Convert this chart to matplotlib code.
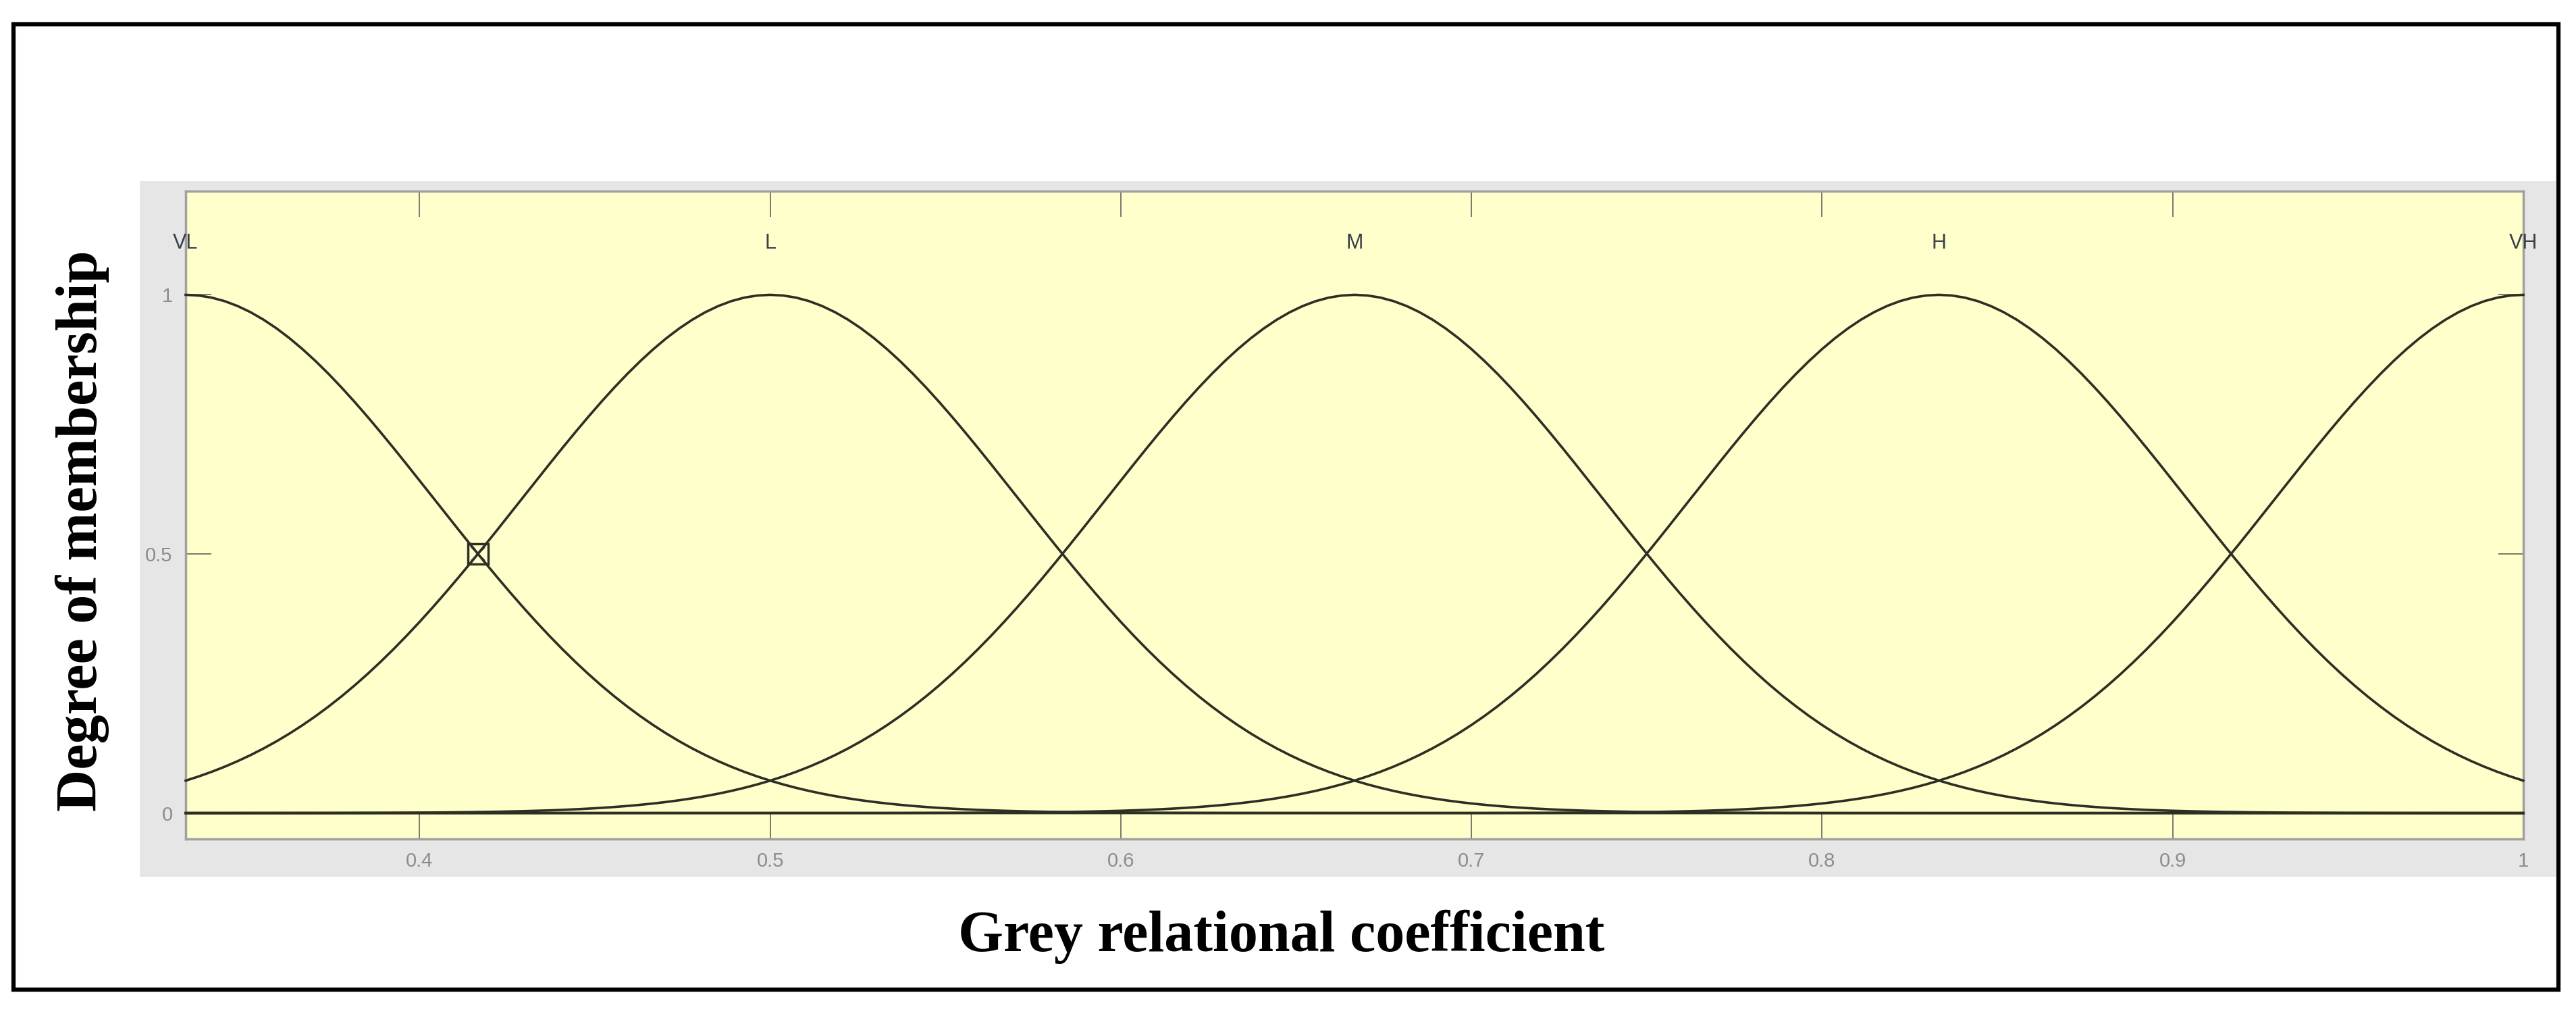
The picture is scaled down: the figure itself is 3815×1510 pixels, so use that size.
import matplotlib.pyplot as plt
from matplotlib.patches import Rectangle
import numpy as np

# membership functions (gaussmf), parameters
mf_names = ["VL", "L", "M", "H", "VH"]
mf_centers = [0.3333, 0.5, 0.6667, 0.8333, 1.0]
mf_sigmas = [0.0708, 0.0708, 0.0708, 0.0708, 0.0708]

x_range = [0.3333, 1.0]
x_ticks = [0.4, 0.5, 0.6, 0.7, 0.8, 0.9, 1.0]
x_tick_labels = ["0.4", "0.5", "0.6", "0.7", "0.8", "0.9", "1"]
y_ticks = [0, 0.5, 1]
y_tick_labels = ["0", "0.5", "1"]

# highlighted crossing of VL and L
marker_x = [0.4167]
marker_y = [0.5]

W, H = 3815, 1510
fig = plt.figure(figsize=(W / 100, H / 100), dpi=100)
fig.patch.set_facecolor("white")

# outer black frame
fig.patches.append(Rectangle((20 / W, 1 - 1465 / H), (3789 - 20) / W, (1465 - 36) / H,
                             transform=fig.transFigure, fill=False,
                             edgecolor="black", linewidth=4.5, zorder=-2))
# grey panel behind the axes (matlab figure background)
fig.patches.append(Rectangle((207 / W, 1 - 1298 / H), (3785 - 207) / W, (1298 - 268) / H,
                             transform=fig.transFigure, facecolor="#e6e6e6",
                             edgecolor="none", zorder=-1))

ax = fig.add_axes([275 / W, 1 - 1242 / H, (3737 - 275) / W, (1242 - 283) / H])
ax.set_zorder(1)
ax.set_facecolor("#ffffcc")

# evaluation grid, as matlab plotmf does
xs = np.linspace(x_range[0], x_range[1], 181)
for name, c, s in zip(mf_names, mf_centers, mf_sigmas):
    ys = np.exp(-((xs - c) ** 2) / (2 * s ** 2))
    ax.plot(xs, ys, color="#2e2e24", linewidth=2.6, zorder=3, clip_on=False)
    ax.text(c, 1.1, name, ha="center", va="center", fontsize=22,
            color="#3a3f48", family="Liberation Sans", zorder=4)

ax.plot(marker_x, marker_y, marker="s", markersize=22, mfc="none",
        mec="#2e2e24", mew=2.5, linestyle="none", zorder=5)
ax.plot(marker_x, marker_y, marker="x", markersize=14, mec="#2e2e24",
        mew=1.5, linestyle="none", zorder=5)

ax.set_xlim(x_range)
ax.set_ylim(-0.05, 1.2)

ax.set_xticks(x_ticks)
ax.set_xticklabels(x_tick_labels)
ax.set_yticks(y_ticks)
ax.set_yticklabels(y_tick_labels)
ax.tick_params(axis="both", direction="in", length=27, width=1.3, color="#6e6e66",
               labelsize=21, labelcolor="#8c8c8c", top=True, right=True, pad=14)
for lab in ax.get_xticklabels() + ax.get_yticklabels():
    lab.set_family("Liberation Sans")

for sp in ax.spines.values():
    sp.set_color("#a0a0a0")
    sp.set_linewidth(2.5)

# axis titles, bold serif like the figure caption
fig.text(1898 / W, 1 - 1387 / H, "Grey relational coefficient", ha="center", va="center",
         fontsize=62, fontweight="bold", family="Liberation Serif")
fig.text(122 / W, 1 - 786 / H, "Degree of membership", ha="center", va="center",
         rotation=90, fontsize=62, fontweight="bold", family="Liberation Serif")

fig.savefig("out.png", dpi=100)
